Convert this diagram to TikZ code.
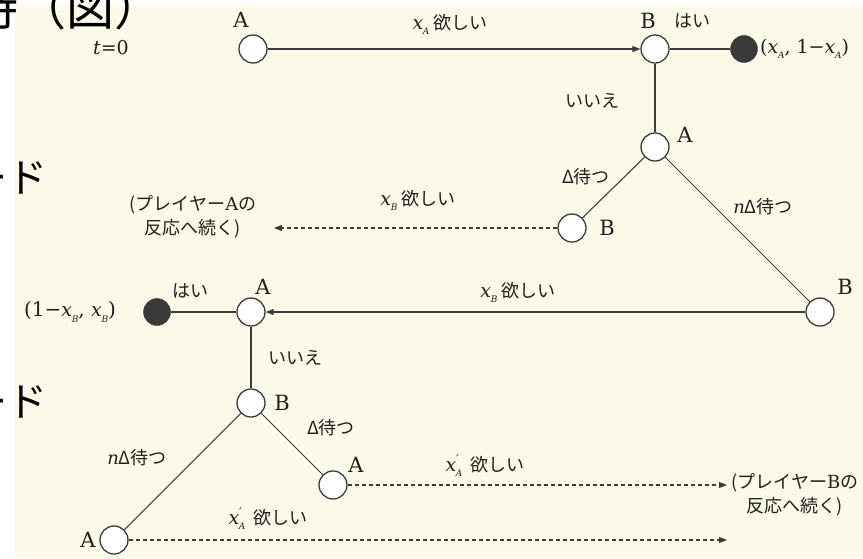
\documentclass[tikz,border=0pt]{standalone}
\usepackage{fontspec}
\setmainfont{DejaVu Serif}
\newfontfamily\cjk{Noto Sans CJK JP}
\usetikzlibrary{arrows.meta}
\definecolor{paper}{RGB}{251,249,231}
\definecolor{lc}{RGB}{60,60,60}
\definecolor{dc}{RGB}{58,58,58}
\definecolor{tc}{RGB}{32,32,32}
% variable with subscript (and optional prime)
\newcommand\vx[1]{{\normalfont\fontsize{19}{22}\selectfont\itshape x}\kern-0.3pt\raisebox{-0.28em}{\fontsize{9}{9}\selectfont\normalfont\itshape #1}}
\newcommand\vxp[1]{{\normalfont\fontsize{19}{22}\selectfont\itshape x}\rlap{\raisebox{0.45em}{\fontsize{12}{12}\selectfont\normalfont ′}}\kern-0.3pt\raisebox{-0.28em}{\fontsize{9}{9}\selectfont\normalfont\itshape #1}}
\begin{document}
\begin{tikzpicture}[x=1pt,y=-1pt,
  st/.style={circle, draw=lc, fill=white, line width=1.3pt, minimum size=28pt, inner sep=0pt},
  term/.style={circle, fill=dc, draw=dc, minimum size=27pt, inner sep=0pt},
  edge/.style={draw=lc, line width=1.05pt},
  arr/.style={edge, -{Triangle[length=8pt,width=6pt]}},
  darr/.style={arr, dash pattern=on 4pt off 3pt},
  lab/.style={font=\fontsize{21}{24}\selectfont, text=tc, inner sep=0pt},
  vlab/.style={font=\fontsize{19}{22}\selectfont, text=tc, inner sep=0pt},
  jlab/.style={font=\fontsize{18}{24}\selectfont\cjk, text=tc, inner sep=0pt},
  big/.style={font=\fontsize{48}{50}\selectfont\cjk, text=black, inner sep=0pt},
  mid/.style={font=\fontsize{40}{44}\selectfont\cjk, text=black, inner sep=0pt}]
\useasboundingbox (0,0) rectangle (863,558);
\fill[white] (0,0) rectangle (863,558);
\fill[paper] (15,5) rectangle (863,558);
% cropped headline text at the left edge
\node[big, anchor=base west] (hd) at (-30,25) {待（図）};
\node[mid, anchor=base east] (hd2) at (48,192) {ード};
\node[mid, anchor=base east] (hd3) at (48,416) {ード};
% t = 0 row
\node[vlab] (t0) at (111,48) {{\itshape t}=0};
\node[st] (A0) at (253,49) {};
\node[lab] (lA0) at (241,20) {A};
\node[st] (B1) at (655,49) {};
\node[lab] (lB1) at (648,21) {B};
\node[term] (F1) at (744,49) {};
\node[vlab, anchor=west] (pA) at (760,49) {(\vx{A}, 1−\vx{A})};
\draw[arr] (A0) -- (B1);
\node[jlab] (eA0) at (450,24) {\vx{A}\ 欲しい};
\draw[edge] (B1) -- (F1);
\node[jlab] (yes1) at (692,21) {はい};
% first branching
\node[st] (A2) at (655,147) {};
\node[lab] (lA2) at (685,135) {A};
\draw[edge] (B1) -- (A2);
\node[jlab] (no1) at (592,101) {いいえ};
\node[st] (B3) at (572,228) {};
\node[lab] (lB3) at (607,228) {B};
\node[st] (B4) at (820,312) {};
\node[lab] (lB4) at (845,287) {B};
\draw[edge] (A2) -- (B3);
\draw[edge] (A2) -- (B4);
\node[jlab] (w1) at (586,177) {Δ待つ};
\node[jlab] (nw1) at (763,207) {{\normalfont\itshape n}Δ待つ};
\coordinate (tipA) at (274,228);
\draw[darr] (B3) -- (tipA);
\node[jlab] (eB3) at (418,200) {\vx{B}\ 欲しい};
\node[jlab, align=center] (contA) at (193,217) {(プレイヤー{\normalfont A}の\\反応へ続く)};
% second row
\node[st] (A5) at (251,312) {};
\node[lab] (lA5) at (263,287) {A};
\node[term] (F2) at (157,312) {};
\node[vlab, font=\fontsize{20}{22}\selectfont] (pB) at (70,312) {(1−\vx{B}, \vx{B})};
\draw[arr] (B4) -- (A5);
\node[jlab] (eB4) at (518,292) {\vx{B}\ 欲しい};
\draw[edge] (A5) -- (F2);
\node[jlab] (yes2) at (190,291) {はい};
\node[st] (B6) at (251,403) {};
\node[lab] (lB6) at (282,403) {B};
\draw[edge] (A5) -- (B6);
\node[jlab] (no2) at (295,358) {いいえ};
\node[st] (A7) at (333,485) {};
\node[lab] (lA7) at (356,465) {A};
\node[st] (A8) at (114,540) {};
\node[lab] (lA8) at (88,540) {A};
\draw[edge] (B6) -- (A7);
\draw[edge] (B6) -- (A8);
\node[jlab] (w2) at (331,428) {Δ待つ};
\node[jlab] (nw2) at (137,458) {{\normalfont\itshape n}Δ待つ};
\coordinate (tipB1) at (727,485);
\coordinate (tipB2) at (727,540);
\draw[darr] (A7) -- (tipB1);
\draw[darr] (A8) -- (tipB2);
\node[jlab] (eA7) at (485,466) {\vxp{A}\ \ 欲しい};
\node[jlab] (eA8) at (268,519) {\vxp{A}\ \ 欲しい};
\node[jlab, align=center, anchor=north] (contB) at (795,473) {(プレイヤー{\normalfont B}の\\反応へ続く)};
\end{tikzpicture}
\end{document}
